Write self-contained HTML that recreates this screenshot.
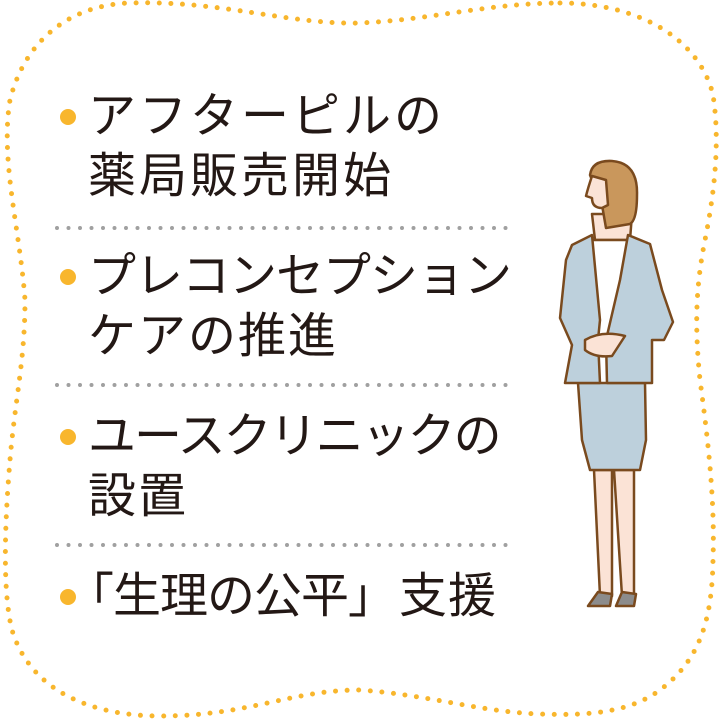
<!DOCTYPE html>
<html><head><meta charset="utf-8"><style>
body{margin:0;width:720px;height:720px;background:#fff;position:relative;overflow:hidden;font-family:"Liberation Sans","Noto Sans CJK JP",sans-serif;}
.t{position:absolute;left:88px;height:60px;line-height:60px;font-size:48px;letter-spacing:2px;color:#231815;white-space:nowrap;}
.b{position:absolute;left:60px;width:16px;height:16px;border-radius:50%;background:#f8b62d;}
</style></head><body>
<svg width="720" height="720" style="position:absolute;left:0;top:0">
<path d="M560,3 C640,3 700,40 713,95 C720,140 715,190 705,240 C695,290 695,330 700,380 C708,440 715,500 713,560 C712,620 700,660 660,690 C630,712 590,716 540,714 C480,712 430,695 360,690 C290,690 250,716 160,716 C90,716 30,690 12,630 C2,590 5,520 10,460 C15,400 25,360 25,300 C20,230 0,160 10,100 C25,40 70,5 130,3 C220,0 290,25 360,23 C430,20 490,3 560,3 Z" fill="none" stroke="#f8b62d" stroke-width="5" stroke-linecap="round" stroke-dasharray="0 11.6"/>
<g stroke="#a0a0a0" stroke-width="4" stroke-linecap="round" stroke-dasharray="0 11.5">
<line x1="57" y1="228" x2="510" y2="228"/><line x1="57" y1="385" x2="510" y2="385"/><line x1="57" y1="545" x2="510" y2="545"/>
</g>
<g stroke="#7a4a1e" stroke-width="2.5" stroke-linejoin="round">
<path d="M594,470 L600,596 L612,596 L612,470 Z M614,470 L622,596 L634,596 L634,470 Z" fill="#fbe3d6"/>
<path d="M588,606 L598,592 L612,594 L610,606 Z M616,606 L622,592 L636,594 L634,606 Z" fill="#8c8c8c"/>
<path d="M578,383 L645,383 L646,440 L640,470 L590,470 L582,440 Z" fill="#bdd0dc"/>
<path d="M592,214 L632,214 L630,240 L595,240 Z" fill="#fbe3d6"/>
<path d="M590,240 L628,240 L624,340 L596,340 Z" fill="#fff"/>
<path d="M572,245 L592,235 L600,320 L598,340 L600,383 L565,383 L572,345 L560,318 L566,260 Z" fill="#bdd0dc"/>
<path d="M628,235 L650,244 L662,290 L673,322 L664,340 L652,340 L652,383 L607,383 L606,340 L620,280 Z" fill="#bdd0dc"/>
<path d="M585,340 Q602,330 625,336 L612,356 Q595,358 585,350 Z" fill="#fbe3d6"/>
<path d="M590,175 Q592,160 612,161 Q638,163 637,195 Q637,220 630,224 L606,228 L602,205 Z" fill="#c9975c"/>
<path d="M592,176 Q588,188 586,196 L592,198 Q592,208 602,208 L608,205 L606,180 Z" fill="#fbe3d6"/>
</g>
</svg>
<div class="b" style="top:109px"></div><div class="t" style="top:87px;letter-spacing:3px">アフターピルの</div>
<div class="t" style="top:147px;letter-spacing:3px">薬局販売開始</div>
<div class="b" style="top:269px"></div><div class="t" style="top:247px;letter-spacing:-1px">プレコンセプション</div>
<div class="t" style="top:307px">ケアの推進</div>
<div class="b" style="top:429px"></div><div class="t" style="top:407px;letter-spacing:-2px">ユースクリニックの</div>
<div class="t" style="top:467px">設置</div>
<div class="b" style="top:589px"></div><div class="t" style="top:567px;left:66px;letter-spacing:-1px">「生理の公平」</div>
<div class="t" style="top:567px;left:399px;letter-spacing:1px">支援</div>
</body></html>
